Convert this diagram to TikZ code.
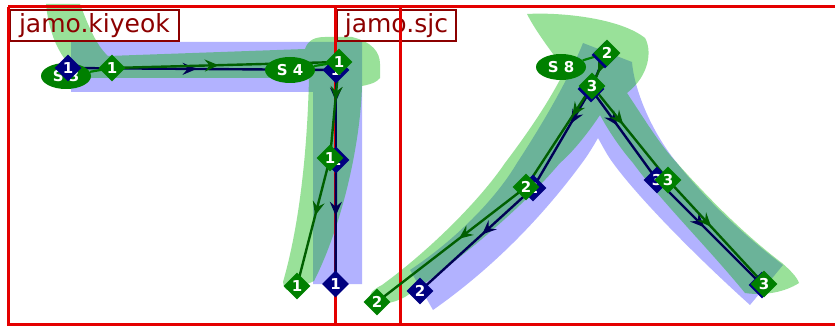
\documentclass[tikz,border=0pt]{standalone}
\usepackage{fontspec}
\setmainfont{DejaVu Sans}
\usetikzlibrary{shapes.geometric,arrows.meta,decorations.markings}
\definecolor{framered}{RGB}{228,0,0}
\definecolor{labelred}{RGB}{140,0,0}
\definecolor{inkgreen}{RGB}{0,128,0}
\definecolor{linegreen}{RGB}{0,95,0}
\definecolor{inknavy}{RGB}{0,0,128}
\definecolor{linenavy}{RGB}{0,0,85}
\definecolor{fillblue}{RGB}{0,0,255}
\definecolor{fillgreen}{RGB}{0,180,0}

\begin{document}
\begin{tikzpicture}[x=1pt,y=-1pt,
  frame/.style={draw=framered, line width=3pt},
  glyphname/.style={draw=labelred, line width=1.8pt, text=labelred, font=\fontsize{25}{25}\selectfont, anchor=north west, inner sep=0pt, minimum height=31pt},
  bluefill/.style={fill=fillblue, fill opacity=0.3},
  greenfill/.style={fill=fillgreen, fill opacity=0.4},
  pathline/.style={line width=2.4pt, postaction={decorate}, decoration={markings, mark=at position #1 with {\arrow{Stealth[length=14pt,width=12pt,inset=5pt]}}}},
  bline/.style={pathline=#1, draw=linenavy},
  bline/.default=0.45,
  gline/.style={pathline=#1, draw=linegreen},
  gline/.default=0.45,
  bpt/.style={diamond, fill=inknavy, text=white, font=\fontsize{15}{15}\selectfont\bfseries, inner sep=0pt, minimum size=27pt},
  gpt/.style={bpt, fill=inkgreen},
  sname/.style={ellipse, fill=inkgreen, text=white, font=\fontsize{15}{15}\selectfont\bfseries, minimum width=50pt, minimum height=26pt, inner sep=0pt},
  stag/.style={draw=inkgreen, line width=2.2pt}
]
\useasboundingbox (0,0) rectangle (835,326);

% points of the two outlines
\coordinate (kb1) at (68,68);
\coordinate (kb2) at (336,70);
\coordinate (kb3) at (336,160);
\coordinate (kb4) at (335.5,284);
\coordinate (kg1) at (112,68);
\coordinate (kg2) at (339,62);
\coordinate (kg3) at (330,158);
\coordinate (kg4) at (297,286);
\coordinate (sb1) at (605,55);
\coordinate (sb2) at (591,89);
\coordinate (sb3) at (533,188);
\coordinate (sb4) at (420,291);
\coordinate (sb5) at (657,180);
\coordinate (sb6) at (762,285);
\coordinate (sg1) at (607,53);
\coordinate (sg2) at (592,86);
\coordinate (sg3) at (526,187);
\coordinate (sg4) at (377,302);
\coordinate (sg5) at (668,180);
\coordinate (sg6) at (764,284);

% glyph shapes
\fill[bluefill] (71,42) -- (362,42) -- (362,284) -- (313,284) -- (313,92) -- (71,92) -- cycle;
\fill[greenfill] (46,4) -- (80,4) .. controls (88,25) and (96,45) .. (108,56) -- (305,49)
  .. controls (308,40) and (315,37) .. (325,37) -- (352,37) .. controls (372,42) and (380,52) .. (380,64)
  -- (380,78) .. controls (377,82) and (372,84) .. (362,86) .. controls (360,150) and (340,230) .. (314,281)
  .. controls (306,285) and (296,288) .. (287,290) .. controls (284,288) and (283,285) .. (283,282)
  .. controls (298,230) and (307,160) .. (309,78) -- (88,78) .. controls (68,70) and (50,45) .. (46,4) -- cycle;

\fill[bluefill] (583,43) -- (632,62) .. controls (634,88) and (650,130) .. (677,163)
  .. controls (710,205) and (750,240) .. (783,265) -- (750,305) .. controls (700,260) and (640,200) .. (613,163)
  .. controls (607,155) and (602,145) .. (598,138) .. controls (594,145) and (588,155) .. (582,163)
  .. controls (540,220) and (490,270) .. (433,310) -- (410,270) .. controls (455,240) and (495,200) .. (517,163)
  .. controls (545,120) and (568,80) .. (583,43) -- cycle;
\fill[greenfill] (527,14) .. controls (560,12) and (620,18) .. (645,38) .. controls (652,50) and (650,75) .. (627,93)
  .. controls (645,120) and (660,145) .. (677,163) .. controls (710,200) and (745,235) .. (782,263)
  .. controls (790,270) and (797,277) .. (799,283) .. controls (785,292) and (765,296) .. (745,293)
  .. controls (710,250) and (660,200) .. (633,163) .. controls (620,148) and (608,130) .. (600,115)
  .. controls (590,130) and (575,150) .. (560,163) .. controls (520,210) and (460,260) .. (405,297)
  .. controls (392,304) and (378,306) .. (370,300) .. controls (368,295) and (372,290) .. (382,285)
  .. controls (430,250) and (480,200) .. (505,163) .. controls (530,130) and (550,100) .. (565,70)
  .. controls (550,50) and (535,30) .. (527,14) -- cycle;

% glyph names
\node[glyphname, minimum width=169pt] (kiyeok) at (9,9) {jamo.kiyeok};
\node[glyphname, minimum width=119pt] (sjc) at (336,9) {jamo.sjc};

% frames
\draw[frame] (8,7) -- (835,7);
\draw[frame] (8,7) -- (8,326);
\draw[frame] (8,324.5) -- (835,324.5);
\draw[frame] (335,7) -- (335,326);
\draw[frame] (400.5,7) -- (400.5,326);

% blue outline
\draw[bline=0.48] (kb1) -- (kb2);
\draw[bline=0.35] (kb2) -- (kb3);
\draw[bline] (kb3) -- (kb4);
\draw[bline] (sb1) -- (sb2);
\draw[bline=0.35] (sb2) -- (sb3);
\draw[bline] (sb3) -- (sb4);
\draw[bline=0.4] (sb2) -- (sb5);
\draw[bline] (sb5) -- (sb6);

% green outline
\draw[gline=0.47] (kg1) -- (kg2);
\draw[gline=0.4] (kg2) -- (kg3);
\draw[gline] (kg3) -- (kg4);
\draw[gline=0.6] (sg1) -- (sg2);
\draw[gline=0.3] (sg2) -- (sg3);
\draw[gline] (sg3) -- (sg4);
\draw[gline=0.41] (sg2) -- (sg5);
\draw[gline] (sg5) -- (sg6);

% stroke names
\node[sname] (s3) at (66,76) {S 3};
\node[sname] (s4) at (290,70) {S 4};
\node[sname] (s8) at (561,67) {S 8};
\draw[stag] (s3) -- (kg1);
\draw[stag] (s4) -- (kg2);
\draw[stag] (s8) -- (sg1);

% points
\foreach \p/\t in {kb1/1, kb2/1, kb3/1, kb4/1, sb1/2, sb2/3, sb3/2, sb4/2, sb5/3, sb6/3}
  \node[bpt] (\p n) at (\p) {\t};
\foreach \p/\t in {kg1/1, kg2/1, kg3/1, kg4/1, sg1/2, sg2/3, sg3/2, sg4/2, sg5/3, sg6/3}
  \node[gpt] (\p n) at (\p) {\t};

\end{tikzpicture}
\end{document}
